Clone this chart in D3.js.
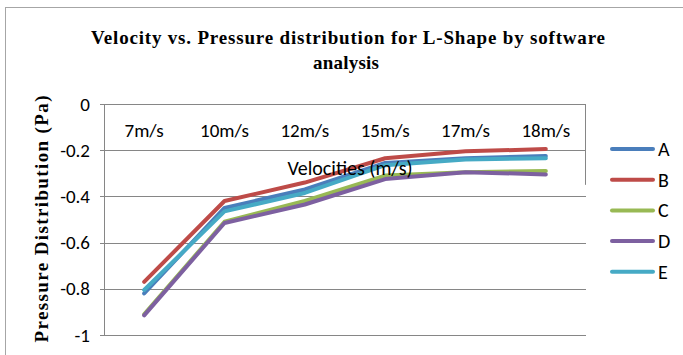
<!DOCTYPE html>
<html>
<head>
<meta charset="utf-8">
<script src="https://cdn.jsdelivr.net/npm/d3@7"></script>
<style>
  html, body { margin: 0; padding: 0; background: #fff; }
  svg { display: block; }
</style>
</head>
<body>
<div id="chart"></div>
<script>
// Chart data
const categories = ['7m/s', '10m/s', '12m/s', '15m/s', '17m/s', '18m/s'];
const seriesNames = ['A', 'B', 'C', 'D', 'E'];
const seriesA = [-0.82, -0.45, -0.37, -0.255, -0.235, -0.225];
const seriesB = [-0.77, -0.42, -0.34, -0.235, -0.205, -0.195];
const seriesC = [-0.91, -0.51, -0.42, -0.31, -0.295, -0.29];
const seriesD = [-0.915, -0.515, -0.435, -0.325, -0.295, -0.305];
const seriesE = [-0.805, -0.465, -0.385, -0.265, -0.24, -0.235];
const yTicks = [0, -0.2, -0.4, -0.6, -0.8, -1];
const colors = ['#4a7ebb', '#be4b48', '#98b954', '#7d60a0', '#46aac5'];

const series = [seriesA, seriesB, seriesC, seriesD, seriesE].map((values, i) => ({
  name: seriesNames[i],
  color: colors[i],
  values
}));

const width = 683;
const height = 355;
const margin = { top: 104, right: 97, bottom: 20, left: 104 };
const sansFont = 'Carlito, "Liberation Sans", sans-serif';
const serifFont = '"Liberation Serif", "Times New Roman", serif';

const svg = d3.select('#chart')
  .append('svg')
  .attr('width', width)
  .attr('height', height);

// outer chart border
svg.append('rect')
  .attr('x', 5.5)
  .attr('y', 7.5)
  .attr('width', width + 10)
  .attr('height', height + 10)
  .attr('fill', 'none')
  .attr('stroke', '#a6a6a6');

// scales
const x = d3.scaleBand()
  .domain(categories)
  .range([margin.left, width - margin.right]);

const y = d3.scaleLinear()
  .domain([-1, 0])
  .range([335, margin.top]);

// gridlines
svg.append('g')
  .selectAll('line')
  .data(yTicks.filter(d => d !== 0))
  .join('line')
  .attr('x1', margin.left - 4)
  .attr('x2', width - margin.right)
  .attr('y1', d => Math.round(y(d)) + 0.5)
  .attr('y2', d => Math.round(y(d)) + 0.5)
  .attr('stroke', '#868686')
  .attr('stroke-width', 1);

// plot border (top, left, partial right)
svg.append('line')
  .attr('x1', margin.left - 4).attr('x2', width - margin.right)
  .attr('y1', Math.round(y(0)) + 0.5).attr('y2', Math.round(y(0)) + 0.5)
  .attr('stroke', '#868686');
svg.append('line')
  .attr('x1', margin.left + 0.5).attr('x2', margin.left + 0.5)
  .attr('y1', y(0)).attr('y2', y(-1))
  .attr('stroke', '#868686');
svg.append('line')
  .attr('x1', width - margin.right - 0.5).attr('x2', width - margin.right - 0.5)
  .attr('y1', y(0)).attr('y2', y(-0.35))
  .attr('stroke', '#868686');

// y tick labels
svg.append('g')
  .selectAll('text')
  .data(yTicks)
  .join('text')
  .attr('x', margin.left - 14)
  .attr('y', d => y(d))
  .attr('dy', '0.35em')
  .attr('text-anchor', 'end')
  .attr('font-family', sansFont)
  .attr('font-size', 19)
  .attr('fill', '#000')
  .text(d => String(d));

// category labels
svg.append('g')
  .selectAll('text')
  .data(categories)
  .join('text')
  .attr('x', d => x(d) + x.bandwidth() / 2)
  .attr('y', 130)
  .attr('dy', '0.35em')
  .attr('text-anchor', 'middle')
  .attr('font-family', sansFont)
  .attr('font-size', 19)
  .attr('fill', '#000')
  .text(d => d);

// lines
const line = d3.line()
  .x((d, i) => x(categories[i]) + x.bandwidth() / 2)
  .y(d => y(d));

svg.append('g')
  .selectAll('path')
  .data(series)
  .join('path')
  .attr('d', d => line(d.values))
  .attr('fill', 'none')
  .attr('stroke', d => d.color)
  .attr('stroke-width', 4)
  .attr('stroke-linejoin', 'round')
  .attr('stroke-linecap', 'round');

// x axis title (sits on top of the lines)
svg.append('text')
  .attr('x', 350)
  .attr('y', 168)
  .attr('text-anchor', 'middle')
  .attr('dy', '0.35em')
  .attr('font-family', sansFont)
  .attr('font-size', 20)
  .attr('fill', '#000')
  .text('Velocities (m/s)');

// legend
const legend = svg.append('g')
  .selectAll('g')
  .data(series)
  .join('g')
  .attr('transform', (d, i) => `translate(612, ${149 + i * 30.7})`);

legend.append('line')
  .attr('x1', 0).attr('x2', 41)
  .attr('y1', 0).attr('y2', 0)
  .attr('stroke', d => d.color)
  .attr('stroke-width', 4)
  .attr('stroke-linecap', 'round');

legend.append('text')
  .attr('x', 46)
  .attr('y', 0)
  .attr('dy', '0.35em')
  .attr('font-family', sansFont)
  .attr('font-size', 20)
  .attr('fill', '#000')
  .text(d => d.name);

// title
const title = svg.append('text')
  .attr('text-anchor', 'middle')
  .attr('font-family', serifFont)
  .attr('font-weight', 'bold')
  .attr('font-size', 19)
  .attr('fill', '#000');
title.append('tspan').attr('x', 348).attr('y', 44)
  .attr('textLength', 514)
  .attr('lengthAdjust', 'spacing')
  .text('Velocity vs. Pressure distribution for L-Shape by software');
title.append('tspan').attr('x', 346).attr('y', 69)
  .attr('textLength', 66)
  .attr('lengthAdjust', 'spacing')
  .text('analysis');

// y axis title
svg.append('text')
  .attr('transform', 'translate(48, 219) rotate(-90)')
  .attr('text-anchor', 'middle')
  .attr('font-family', serifFont)
  .attr('font-weight', 'bold')
  .attr('font-size', 19)
  .attr('textLength', 247)
  .attr('lengthAdjust', 'spacing')
  .attr('fill', '#000')
  .text('Pressure Distribution (Pa)');
</script>
</body>
</html>
